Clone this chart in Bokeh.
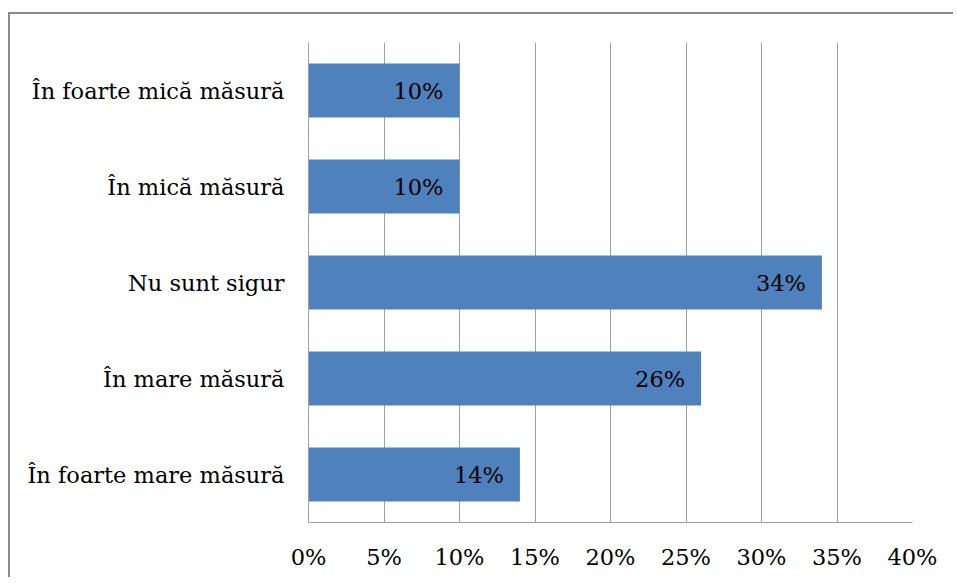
from bokeh.plotting import figure
from bokeh.models import ColumnDataSource, FactorRange, Range1d, FixedTicker, LabelSet
from bokeh.embed import file_html
from bokeh.resources import INLINE
from bokeh.core.properties import value

categories = ["În foarte mare măsură", "În mare măsură", "Nu sunt sigur",
              "În mică măsură", "În foarte mică măsură"]
values = [0.14, 0.26, 0.34, 0.10, 0.10]
tick_values = [0, 0.05, 0.10, 0.15, 0.20, 0.25, 0.30, 0.35, 0.40]
tick_labels = ["0%", "5%", "10%", "15%", "20%", "25%", "30%", "35%", "40%"]
value_labels = ["14%", "26%", "34%", "10%", "10%"]

FONT = "DejaVu Serif"
FS = "22.5px"

src = ColumnDataSource(dict(cat=categories, val=values, lab=value_labels))

p = figure(width=945, height=565, output_backend="svg", toolbar_location=None,
           y_range=FactorRange(*categories, range_padding=0),
           x_range=Range1d(0, 0.40))
p.styles = {"margin-top": "12px", "margin-left": "8px",
            "border-left": "2px solid #8a8a8a",
            "border-top": "2px solid #8a8a8a"}
p.min_border_left = 298
p.min_border_right = 43
p.min_border_top = 28
p.min_border_bottom = 57
p.outline_line_color = None
p.background_fill_color = "white"
p.border_fill_color = "white"

p.hbar(y="cat", right="val", left=0, height=0.5625, source=src,
       fill_color="#4F81BD", line_color=None)

labels = LabelSet(x="val", y="cat", text="lab", source=src, x_offset=-16,
                  text_align="right", text_baseline="middle",
                  text_font=value(FONT), text_font_size=FS, text_color="black")
p.add_layout(labels)

p.xaxis.ticker = FixedTicker(ticks=tick_values)
p.xaxis.major_label_overrides = {v: l for v, l in zip(tick_values, tick_labels)}
p.xaxis.major_label_text_font = FONT
p.xaxis.major_label_text_font_size = FS
p.xaxis.major_label_text_color = "black"
p.xaxis.major_tick_line_color = None
p.xaxis.minor_tick_line_color = None
p.xaxis.axis_line_color = "#a0a0a0"
p.xaxis.major_label_standoff = 15

p.yaxis.major_label_text_font = FONT
p.yaxis.major_label_text_font_size = FS
p.yaxis.major_label_text_color = "black"
p.yaxis.major_tick_line_color = None
p.yaxis.minor_tick_line_color = None
p.yaxis.axis_line_color = "#a0a0a0"
p.yaxis.major_label_standoff = 18

p.xgrid.ticker = FixedTicker(ticks=tick_values)
p.xgrid.grid_line_color = "#a0a0a0"
p.xgrid.grid_line_width = 1
p.ygrid.grid_line_color = None

open("out.html", "w").write(file_html(p, INLINE))
